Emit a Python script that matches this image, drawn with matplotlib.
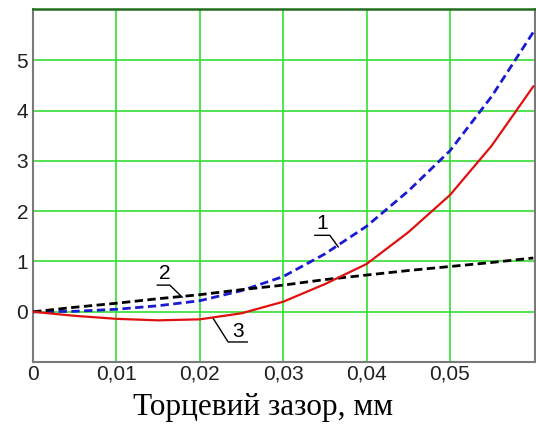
import numpy as np
import matplotlib.pyplot as plt

# зазор, мм
x = np.array([0, 0.005, 0.01, 0.015, 0.02, 0.025, 0.03, 0.035, 0.04, 0.045, 0.05, 0.055, 0.06])
y1 = np.array([0, 0.01, 0.05, 0.12, 0.22, 0.42, 0.70, 1.15, 1.70, 2.40, 3.20, 4.28, 5.56])
y2 = np.array([0, 0.09, 0.17, 0.26, 0.34, 0.44, 0.53, 0.64, 0.73, 0.82, 0.90, 0.98, 1.07])
y3 = np.array([0, -0.08, -0.14, -0.17, -0.15, -0.03, 0.20, 0.55, 0.95, 1.58, 2.32, 3.30, 4.48])

xticks = [0, 0.01, 0.02, 0.03, 0.04, 0.05]
xlabels = ["0", "0,01", "0,02", "0,03", "0,04", "0,05"]
yticks = [0, 1, 2, 3, 4, 5]

fig = plt.figure(figsize=(5.36, 4.26), dpi=100)
ax = fig.add_axes([0.0616, 0.150, 0.9365, 0.829])

ax.plot(x, y1, color="#1a1ad0", lw=2, ls=(0, (3, 1.6)), zorder=3)
ax.plot(x, y2, color="black", lw=2, ls=(0, (3, 1.6)), zorder=3)
ax.plot(x, y3, color="#e01010", lw=1.6, zorder=3)

ax.set_xlim(0, 0.0602)
ax.set_ylim(-1, 6.02)
ax.set_xticks(xticks)
ax.set_xticklabels(xlabels)
ax.set_yticks(yticks)
ax.tick_params(length=0, labelsize=15, labelcolor="#202020")
ax.tick_params(axis="y", pad=3.5)
ax.tick_params(axis="x", pad=2)
for lab in ax.get_xticklabels() + ax.get_yticklabels():
    lab.set_family("Liberation Sans")

ax.grid(True, color="#33dd33", lw=1.2)
ax.set_axisbelow(True)
for s in ("left", "bottom", "right"):
    ax.spines[s].set_color("#7a7a7a")
    ax.spines[s].set_linewidth(1.5)
ax.spines["top"].set_color("#1f6f1f")
ax.spines["top"].set_linewidth(1.8)

fig.text(0.491, 0.026, "Торцевий зазор, мм", family="Liberation Serif",
         fontsize=22.5, ha="center", va="baseline")

# номера кривих з виносками
kw = dict(color="black", lw=1)
tk = dict(fontsize=15, family="Liberation Sans", ha="center", va="center")
ax.text(0.0347, 1.76, "1", **tk)
ax.plot([0.0338, 0.0356, 0.0366], [1.52, 1.52, 1.29], **kw)
ax.text(0.0158, 0.77, "2", **tk)
ax.plot([0.0149, 0.0164, 0.0179], [0.53, 0.53, 0.29], **kw)
ax.text(0.0246, -0.40, "3", **tk)
ax.plot([0.0216, 0.0234, 0.0257], [-0.13, -0.60, -0.60], **kw)

fig.savefig("out.png", dpi=100)
